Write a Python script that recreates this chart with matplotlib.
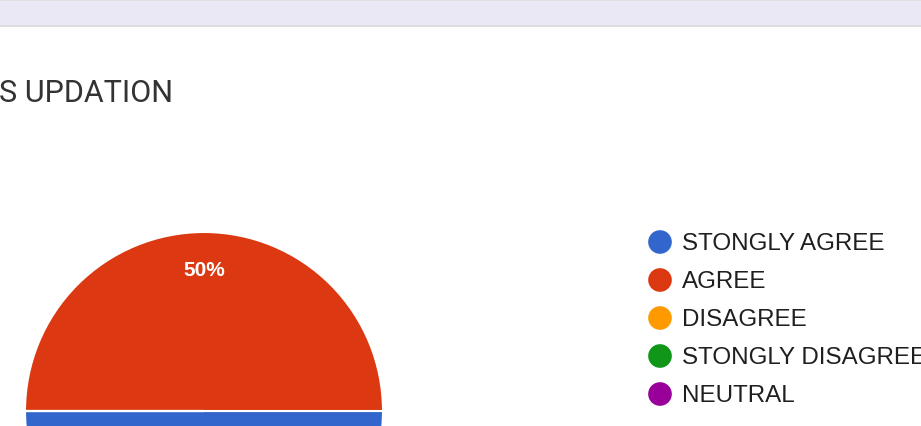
import numpy as np
import matplotlib.pyplot as plt
from matplotlib.patches import Rectangle

title = "S UPDATION"
categories = ["STONGLY AGREE", "AGREE", "DISAGREE", "STONGLY DISAGREE", "NEUTRAL"]
values = [50, 50, 0, 0, 0]
colors = ["#3366cc", "#dc3912", "#ff9900", "#109618", "#990099"]

W, H = 921, 427
fig = plt.figure(figsize=(W / 100, H / 100), dpi=100)
fig.patch.set_facecolor("white")

# top band of the page
fig.add_artist(Rectangle((0, 1 - 26 / H), 1, 26 / H, transform=fig.transFigure,
                         facecolor="#ebe8f5", edgecolor="none"))
fig.add_artist(Rectangle((0, 1 - 27.5 / H), 1, 2 / H, transform=fig.transFigure,
                         facecolor="#dadce0", edgecolor="none"))
fig.add_artist(Rectangle((0, 1 - 2 / H), 1, 2 / H, transform=fig.transFigure,
                         facecolor="#e0e0e0", edgecolor="none"))

fig.text(-1 / W, 1 - 102 / H, title, fontsize=22, color="#333333",
         family="Roboto", va="baseline", ha="left")

# pie: centre (204, 412) px from top-left, radius 179 px
cx, cy, r = 204, 412, 179
ax = fig.add_axes([(cx - r) / W, (H - cy - r) / H, 2 * r / W, 2 * r / H])


def pct(p):
    return f"{p:.0f}%" if p > 0 else ""


wedges, texts, autotexts = ax.pie(
    values, colors=colors, startangle=180, radius=1, autopct=pct,
    pctdistance=0.79, wedgeprops=dict(edgecolor="white", linewidth=1.5),
    textprops=dict(color="white", fontsize=15, fontweight="bold",
                   family="Liberation Sans"))
ax.set_xlim(-1, 1)
ax.set_ylim(-1, 1)
ax.set_aspect("equal")

# labels of slices below the visible area are not shown
ybottom = -(H - cy) / r
for t in autotexts:
    if t.get_position()[1] < ybottom:
        t.set_visible(False)

# legend drawn in pixel coords
lg = fig.add_axes([0, 0, 1, 1])
lg.set_xlim(0, W)
lg.set_ylim(H, 0)
lg.axis("off")
lg.patch.set_alpha(0)
for i, (cat, col) in enumerate(zip(categories, colors)):
    y = 243 + 38 * i
    lg.scatter([660], [y], s=290, color=col, edgecolors="none", clip_on=False)
    lg.text(682, y + 1, cat, fontsize=17.4, color="#1f1f1f",
            family="Liberation Sans", va="center", ha="left", clip_on=False)

fig.savefig("out.png", dpi=100)
